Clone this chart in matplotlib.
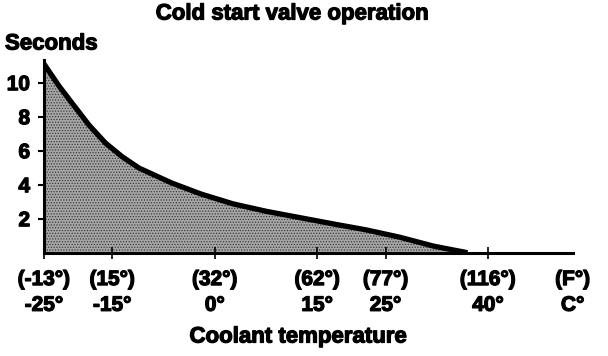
import matplotlib
matplotlib.use("Agg")
import matplotlib.pyplot as plt
import matplotlib.patheffects as pe

plt.rcParams['font.family'] = ['Liberation Sans', 'DejaVu Sans']
plt.rcParams['font.weight'] = 'bold'
plt.rcParams['hatch.color'] = '#3a3a3a'
plt.rcParams['hatch.linewidth'] = 0.6

# coolant temperature (deg C) and valve open time (s)
temp_c = [-25, -22.8, -20.9, -18.4, -16, -13.6, -11.1, -6.3, -2, 2.7, 7.6,
          12.5, 17.4, 22.2, 27.1, 32, 37]
seconds = [11.1, 9.8, 8.8, 7.5, 6.45, 5.66, 4.98, 4.1, 3.45, 2.87, 2.43,
           2.06, 1.69, 1.34, 0.91, 0.39, 0.0]

tick_c = [-25, -15, 0, 15, 25, 40, 52.4]
tick_f = ['(-13°)', '(15°)', '(32°)', '(62°)', '(77°)', '(116°)', '(F°)']
tick_cl = ['-25°', '-15°', '0°', '15°', '25°', '40°', 'C°']
y_ticks = [2, 4, 6, 8, 10]

heavy = [pe.withStroke(linewidth=0.9, foreground='black')]

fig = plt.figure(figsize=(6.08, 3.56), dpi=100)
ax = fig.add_axes([44 / 608, 103.3 / 356, 529 / 608, 193 / 356])

ax.fill_between(temp_c, seconds, 0, facecolor='#a6a6a6', edgecolor='none',
                hatch='......')
ax.plot(temp_c, seconds, color='black', lw=3.8, solid_capstyle='butt')

ax.set_xlim(-25, 52.45)
ax.set_ylim(0, 11.35)

for s in ['top', 'right']:
    ax.spines[s].set_visible(False)
for s in ['left', 'bottom']:
    ax.spines[s].set_linewidth(2.2)

ax.set_yticks(y_ticks)
ax.set_yticklabels([str(v) for v in y_ticks], fontsize=15, fontweight='bold')
ax.tick_params(axis='y', direction='out', length=4, width=1.5, pad=6)

ax.set_xticks(tick_c)
ax.set_xticklabels([f + '\n' + c for f, c in zip(tick_f, tick_cl)],
                   fontsize=15, fontweight='bold', linespacing=1.45)
ax.tick_params(axis='x', direction='inout', length=9, width=1.2, pad=8)
ax.get_xticklines()[-2].set_visible(False)

for lbl in ax.get_xticklabels() + ax.get_yticklabels():
    lbl.set_path_effects(heavy)

fig.text(292 / 608, 1 - 14 / 356, 'Cold start valve operation', ha='center',
         va='center', fontsize=16, fontweight='bold', path_effects=heavy)
fig.text(5 / 608, 1 - 44 / 356, 'Seconds', ha='left', va='center',
         fontsize=16, fontweight='bold', path_effects=heavy)
fig.text(298 / 608, 1 - 337 / 356, 'Coolant temperature', ha='center',
         va='center', fontsize=16, fontweight='bold', path_effects=heavy)

fig.savefig('out.png', dpi=100)
